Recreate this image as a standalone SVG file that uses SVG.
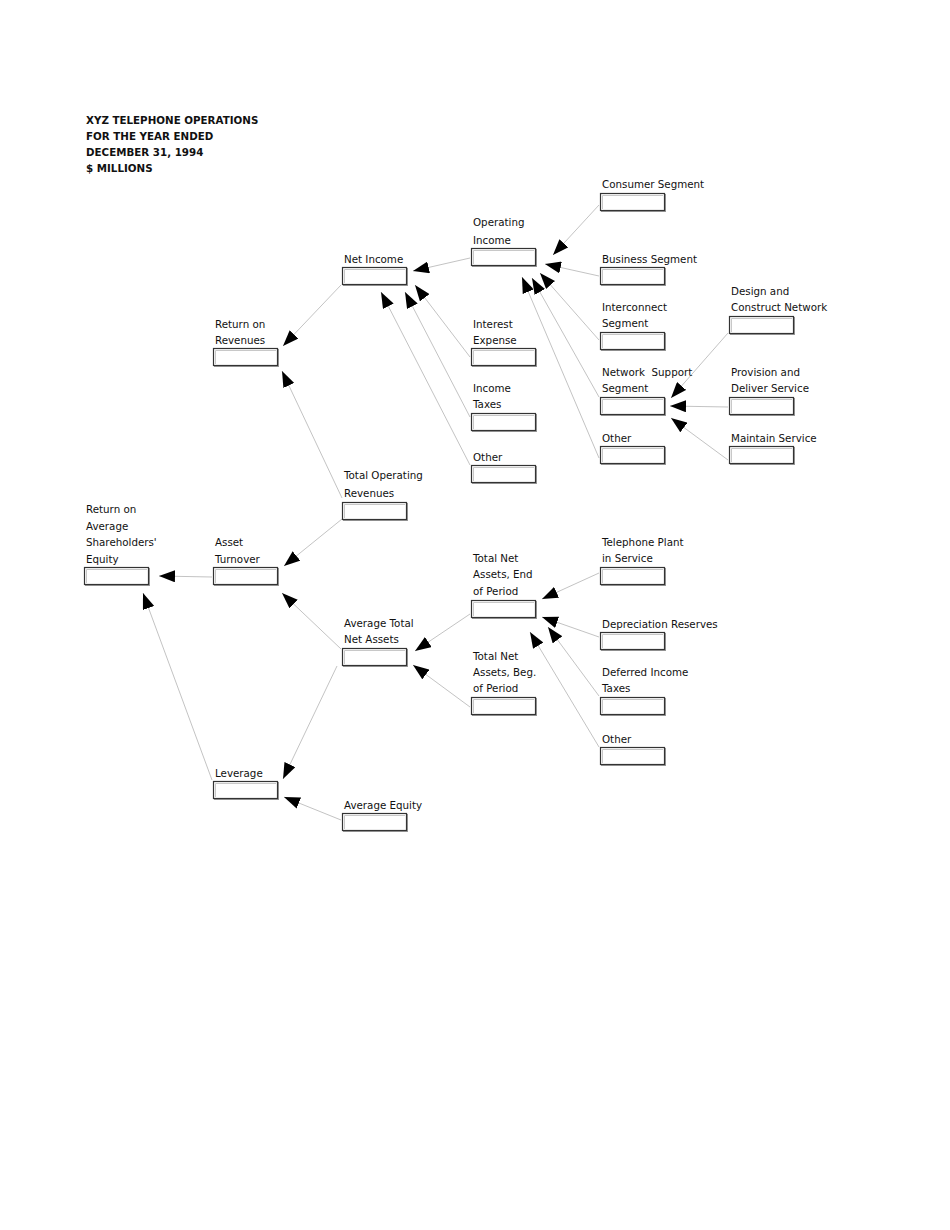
<svg xmlns="http://www.w3.org/2000/svg" xmlns:xlink="http://www.w3.org/1999/xlink" width="950" height="1230" viewBox="0 0 950 1230">
<style>
  text { font-family: "DejaVu Sans", "Liberation Sans", sans-serif; font-size: 10.3px; fill: #111; }
  .title { font-weight: bold; }
  .conn line { stroke: #b4b4b4; stroke-width: 0.8; fill: none; marker-end: url(#ah); }
</style>
<defs>
  <marker id="ah" viewBox="0 0 16 12" refX="16" refY="6" markerWidth="16" markerHeight="12" markerUnits="userSpaceOnUse" orient="auto">
    <path d="M0,0 L16,6 L0,12 z" fill="#000"/>
  </marker>
  <g id="box">
    <rect x="1.5" y="1.5" width="64" height="17" fill="none" stroke="#9a9a9a" stroke-width="1"/>
    <rect x="0.5" y="0.5" width="64" height="17" fill="#fff" stroke="#333" stroke-width="1.2"/>
    <polyline points="2.5,16 2.5,2.5 63,2.5" fill="none" stroke="#c8c8c8" stroke-width="1"/>
  </g>
</defs>
<rect width="950" height="1230" fill="#fff"/>

<g id="title">
  <text class="title" x="86" y="123.5">XYZ TELEPHONE OPERATIONS</text>
  <text class="title" x="86" y="139.5">FOR THE YEAR ENDED</text>
  <text class="title" x="86" y="155.5">DECEMBER 31, 1994</text>
  <text class="title" x="86" y="171.5">$ MILLIONS</text>
</g>

<g id="connectors" class="conn">
  <line x1="599" y1="205" x2="553" y2="255"/>
  <line x1="599" y1="276" x2="545" y2="264"/>
  <line x1="599" y1="340" x2="540" y2="273"/>
  <line x1="599" y1="397" x2="532" y2="278"/>
  <line x1="599" y1="458" x2="522" y2="277"/>
  <line x1="470" y1="258" x2="413" y2="271"/>
  <line x1="470" y1="357" x2="415" y2="285"/>
  <line x1="470" y1="417" x2="405" y2="292"/>
  <line x1="470" y1="465" x2="381" y2="292"/>
  <line x1="341" y1="285" x2="283" y2="346"/>
  <line x1="342" y1="498" x2="282" y2="371"/>
  <line x1="342" y1="519" x2="284" y2="566"/>
  <line x1="212" y1="577" x2="159" y2="576"/>
  <line x1="341" y1="649" x2="282" y2="593"/>
  <line x1="337" y1="666" x2="283" y2="779"/>
  <line x1="212" y1="780" x2="143" y2="593"/>
  <line x1="341" y1="820" x2="284" y2="797"/>
  <line x1="470" y1="614" x2="415" y2="651"/>
  <line x1="470" y1="707" x2="413" y2="665"/>
  <line x1="599" y1="573" x2="542" y2="599"/>
  <line x1="599" y1="637" x2="542" y2="617"/>
  <line x1="599" y1="696" x2="548" y2="627"/>
  <line x1="599" y1="747" x2="530" y2="632"/>
  <line x1="728" y1="333" x2="671" y2="398"/>
  <line x1="728" y1="407" x2="670" y2="406"/>
  <line x1="728" y1="460" x2="671" y2="418"/>
</g>

<g id="consumer-segment"><use xlink:href="#box" href="#box" x="600" y="193"/><text x="602" y="188">Consumer Segment</text></g>
<g id="operating-income"><use xlink:href="#box" href="#box" x="471" y="248"/><text x="473" y="226">Operating</text><text x="473" y="243.5">Income</text></g>
<g id="business-segment"><use xlink:href="#box" href="#box" x="600" y="267"/><text x="602" y="262.5">Business Segment</text></g>
<g id="net-income"><use xlink:href="#box" href="#box" x="342" y="267"/><text x="344" y="262.5">Net Income</text></g>
<g id="interconnect-segment"><use xlink:href="#box" href="#box" x="600" y="332"/><text x="602" y="311">Interconnect</text><text x="602" y="327">Segment</text></g>
<g id="design-construct"><use xlink:href="#box" href="#box" x="729" y="316"/><text x="731" y="295">Design and</text><text x="731" y="311">Construct Network</text></g>
<g id="return-on-revenues"><use xlink:href="#box" href="#box" x="213" y="348"/><text x="215" y="327.5">Return on</text><text x="215" y="343.5">Revenues</text></g>
<g id="interest-expense"><use xlink:href="#box" href="#box" x="471" y="348"/><text x="473" y="327.5">Interest</text><text x="473" y="343.5">Expense</text></g>
<g id="network-support-segment"><use xlink:href="#box" href="#box" x="600" y="397"/><text x="602" y="376" xml:space="preserve">Network  Support</text><text x="602" y="392">Segment</text></g>
<g id="provision-deliver"><use xlink:href="#box" href="#box" x="729" y="397"/><text x="731" y="376">Provision and</text><text x="731" y="392">Deliver Service</text></g>
<g id="income-taxes"><use xlink:href="#box" href="#box" x="471" y="413"/><text x="473" y="392">Income</text><text x="473" y="408">Taxes</text></g>
<g id="maintain-service"><use xlink:href="#box" href="#box" x="729" y="446"/><text x="731" y="441.5">Maintain Service</text></g>
<g id="other-segment"><use xlink:href="#box" href="#box" x="600" y="446"/><text x="602" y="441.5">Other</text></g>
<g id="other-income"><use xlink:href="#box" href="#box" x="471" y="465"/><text x="473" y="460.5">Other</text></g>
<g id="total-operating-revenues"><use xlink:href="#box" href="#box" x="342" y="502"/><text x="344" y="479">Total Operating</text><text x="344" y="497">Revenues</text></g>
<g id="return-on-equity"><use xlink:href="#box" href="#box" x="84" y="567"/><text x="86" y="513.3">Return on</text><text x="86" y="529.7">Average</text><text x="86" y="546">Shareholders'</text><text x="86" y="562.5">Equity</text></g>
<g id="asset-turnover"><use xlink:href="#box" href="#box" x="213" y="567"/><text x="215" y="546">Asset</text><text x="215" y="562.5">Turnover</text></g>
<g id="telephone-plant"><use xlink:href="#box" href="#box" x="600" y="567"/><text x="602" y="546">Telephone Plant</text><text x="602" y="562">in Service</text></g>
<g id="total-net-assets-end"><use xlink:href="#box" href="#box" x="471" y="600"/><text x="473" y="562">Total Net</text><text x="473" y="578">Assets, End</text><text x="473" y="594.5">of Period</text></g>
<g id="average-total-net-assets"><use xlink:href="#box" href="#box" x="342" y="648"/><text x="344" y="627">Average Total</text><text x="344" y="643">Net Assets</text></g>
<g id="depreciation-reserves"><use xlink:href="#box" href="#box" x="600" y="632"/><text x="602" y="627.5">Depreciation Reserves</text></g>
<g id="total-net-assets-beg"><use xlink:href="#box" href="#box" x="471" y="697"/><text x="473" y="660">Total Net</text><text x="473" y="676">Assets, Beg.</text><text x="473" y="692">of Period</text></g>
<g id="deferred-income-taxes"><use xlink:href="#box" href="#box" x="600" y="697"/><text x="602" y="676">Deferred Income</text><text x="602" y="692">Taxes</text></g>
<g id="other-assets"><use xlink:href="#box" href="#box" x="600" y="747"/><text x="602" y="743">Other</text></g>
<g id="leverage"><use xlink:href="#box" href="#box" x="213" y="781"/><text x="215" y="776.5">Leverage</text></g>
<g id="average-equity"><use xlink:href="#box" href="#box" x="342" y="813"/><text x="344" y="808.5">Average Equity</text></g>
</svg>
